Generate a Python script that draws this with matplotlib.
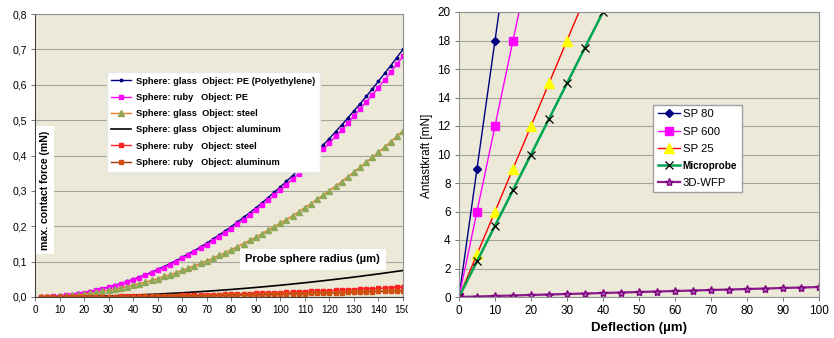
import numpy as np
import matplotlib as mpl
import matplotlib.pyplot as plt
from matplotlib.patches import Rectangle

mpl.rcParams['font.family'] = ['Liberation Sans', 'DejaVu Sans']

# ---------------- left chart: max. contact force vs probe radius ----------------
radius = [2.5, 5, 7.5, 10, 12.5, 15, 17.5, 20, 22.5, 25, 27.5, 30, 32.5, 35, 37.5,
          40, 42.5, 45, 47.5, 50, 52.5, 55, 57.5, 60, 62.5, 65, 67.5, 70, 72.5, 75,
          77.5, 80, 82.5, 85, 87.5, 90, 92.5, 95, 97.5, 100, 102.5, 105, 107.5, 110,
          112.5, 115, 117.5, 120, 122.5, 125, 127.5, 130, 132.5, 135, 137.5, 140,
          142.5, 145, 147.5, 150]

glass_pe = [0.000, 0.001, 0.002, 0.003, 0.005, 0.007, 0.010, 0.012, 0.016, 0.019,
            0.024, 0.028, 0.033, 0.038, 0.044, 0.050, 0.056, 0.063, 0.070, 0.078,
            0.086, 0.094, 0.103, 0.112, 0.122, 0.131, 0.142, 0.152, 0.164, 0.175,
            0.187, 0.199, 0.212, 0.225, 0.238, 0.252, 0.266, 0.281, 0.296, 0.311,
            0.327, 0.343, 0.360, 0.376, 0.394, 0.411, 0.430, 0.448, 0.467, 0.486,
            0.506, 0.526, 0.546, 0.567, 0.588, 0.610, 0.632, 0.654, 0.677, 0.700]
ruby_pe = [0.000, 0.001, 0.002, 0.003, 0.005, 0.007, 0.009, 0.012, 0.015, 0.019,
           0.023, 0.027, 0.032, 0.037, 0.043, 0.048, 0.055, 0.061, 0.068, 0.076,
           0.083, 0.091, 0.100, 0.109, 0.118, 0.128, 0.138, 0.148, 0.159, 0.170,
           0.182, 0.193, 0.206, 0.218, 0.231, 0.245, 0.259, 0.273, 0.287, 0.302,
           0.318, 0.333, 0.349, 0.366, 0.383, 0.400, 0.417, 0.435, 0.454, 0.472,
           0.491, 0.511, 0.531, 0.551, 0.571, 0.592, 0.614, 0.635, 0.658, 0.680]
glass_steel = [0.000, 0.001, 0.001, 0.002, 0.003, 0.005, 0.006, 0.008, 0.011, 0.013,
               0.016, 0.019, 0.022, 0.026, 0.029, 0.033, 0.038, 0.042, 0.047, 0.052,
               0.058, 0.063, 0.069, 0.075, 0.082, 0.088, 0.095, 0.102, 0.110, 0.118,
               0.125, 0.134, 0.142, 0.151, 0.160, 0.169, 0.179, 0.189, 0.199, 0.209,
               0.219, 0.230, 0.241, 0.253, 0.264, 0.276, 0.288, 0.301, 0.313, 0.326,
               0.340, 0.353, 0.367, 0.381, 0.395, 0.409, 0.424, 0.439, 0.454, 0.470]
glass_alu = [0.0000, 0.0001, 0.0002, 0.0003, 0.0005, 0.0008, 0.0010, 0.0013, 0.0017, 0.0021,
             0.0025, 0.0030, 0.0035, 0.0041, 0.0047, 0.0053, 0.0060, 0.0068, 0.0075, 0.0083,
             0.0092, 0.0101, 0.0110, 0.0120, 0.0130, 0.0141, 0.0152, 0.0163, 0.0175, 0.0188,
             0.0200, 0.0213, 0.0227, 0.0241, 0.0255, 0.0270, 0.0285, 0.0301, 0.0317, 0.0333,
             0.0350, 0.0368, 0.0385, 0.0403, 0.0422, 0.0441, 0.0460, 0.0480, 0.0500, 0.0521,
             0.0542, 0.0563, 0.0585, 0.0608, 0.0630, 0.0653, 0.0677, 0.0701, 0.0725, 0.0750]
ruby_steel = [0.0000, 0.0000, 0.0001, 0.0001, 0.0002, 0.0003, 0.0004, 0.0005, 0.0006, 0.0008,
              0.0009, 0.0011, 0.0013, 0.0015, 0.0018, 0.0020, 0.0022, 0.0025, 0.0028, 0.0031,
              0.0034, 0.0038, 0.0041, 0.0045, 0.0049, 0.0053, 0.0057, 0.0061, 0.0065, 0.0070,
              0.0075, 0.0080, 0.0085, 0.0090, 0.0095, 0.0101, 0.0106, 0.0112, 0.0118, 0.0124,
              0.0131, 0.0137, 0.0144, 0.0151, 0.0158, 0.0165, 0.0172, 0.0179, 0.0187, 0.0194,
              0.0202, 0.0210, 0.0218, 0.0227, 0.0235, 0.0244, 0.0253, 0.0262, 0.0271, 0.0280]
ruby_alu = [0.0000, 0.0000, 0.0000, 0.0001, 0.0001, 0.0002, 0.0002, 0.0003, 0.0004, 0.0005,
            0.0006, 0.0007, 0.0008, 0.0010, 0.0011, 0.0013, 0.0014, 0.0016, 0.0018, 0.0020,
            0.0022, 0.0024, 0.0026, 0.0029, 0.0031, 0.0034, 0.0036, 0.0039, 0.0042, 0.0045,
            0.0048, 0.0051, 0.0054, 0.0058, 0.0061, 0.0065, 0.0068, 0.0072, 0.0076, 0.0080,
            0.0084, 0.0088, 0.0092, 0.0097, 0.0101, 0.0106, 0.0110, 0.0115, 0.0120, 0.0125,
            0.0130, 0.0135, 0.0140, 0.0146, 0.0151, 0.0157, 0.0162, 0.0168, 0.0174, 0.0180]

left_xticks = [0, 10, 20, 30, 40, 50, 60, 70, 80, 90, 100, 110, 120, 130, 140, 150]
left_yticks = [0.0, 0.1, 0.2, 0.3, 0.4, 0.5, 0.6, 0.7, 0.8]
left_ylabels = ['0,0', '0,1', '0,2', '0,3', '0,4', '0,5', '0,6', '0,7', '0,8']

# ---------------- right chart: probing force vs deflection ----------------
sp80_x = [0, 5, 10, 15]
sp80_y = [0, 9, 18, 27]
sp600_x = [0, 5, 10, 15, 20]
sp600_y = [0, 6, 12, 18, 24]
sp25_x = [0, 5, 10, 15, 20, 25, 30, 35]
sp25_y = [0, 3, 6, 9, 12, 15, 18, 21]
micro_x = [0, 5, 10, 15, 20, 25, 30, 35, 40]
micro_y = [0, 2.5, 5, 7.5, 10, 12.5, 15, 17.5, 20]
wfp_x = [0, 5, 10, 15, 20, 25, 30, 35, 40, 45, 50, 55, 60, 65, 70, 75, 80, 85, 90, 95, 100]
wfp_y = [0, 0.035, 0.07, 0.105, 0.14, 0.175, 0.21, 0.245, 0.28, 0.315, 0.35, 0.385,
         0.42, 0.455, 0.49, 0.525, 0.56, 0.595, 0.63, 0.665, 0.70]

bg = '#ECE9D8'
grid_c = '#A5A5A0'

fig = plt.figure(figsize=(8.34, 3.38), dpi=100)

# ---- left
ax1 = fig.add_axes([35 / 834, 41 / 338, 368 / 834, 283 / 338])
ax1.set_facecolor(bg)
ax1.plot(radius, glass_pe, color='#000080', lw=1.0, marker='o', ms=1.8,
         label='Sphere: glass  Object: PE (Polyethylene)')
ax1.plot(radius, ruby_pe, color='#FF00FF', lw=1.0, marker='s', ms=2.6,
         label='Sphere: ruby   Object: PE')
ax1.plot(radius, glass_steel, color='#F07820', lw=1.0, marker='^', ms=5,
         mfc='#8FA858', mec='#8FA858', label='Sphere: glass  Object: steel')
ax1.plot(radius, glass_alu, color='black', lw=1.2,
         label='Sphere: glass  Object: aluminum')
ax1.plot(radius, ruby_steel, color='#FF2020', lw=1.0, marker='s', ms=2.6,
         label='Sphere: ruby   Object: steel')
ax1.plot(radius, ruby_alu, color='#993300', lw=1.0, marker='s', ms=2.2,
         mfc='#D05010', mec='#D05010', label='Sphere: ruby   Object: aluminum')
ax1.set_xlim(0, 150)
ax1.set_ylim(0, 0.8)
ax1.set_xticks(left_xticks)
ax1.set_xticklabels([str(v) for v in left_xticks], fontsize=7.2)
ax1.set_yticks(left_yticks)
ax1.set_yticklabels(left_ylabels, fontsize=7.6)
ax1.grid(axis='y', color=grid_c, lw=0.8)
ax1.set_axisbelow(True)
ax1.tick_params(length=3, width=0.6, color='#606060', pad=3)
for s in ['top', 'right']:
    ax1.spines[s].set_color('#909090')
for s in ['left', 'bottom']:
    ax1.spines[s].set_color('#404040')
ax1.text(0.027, 0.378, 'max. contact force (mN)', transform=ax1.transAxes,
         rotation=90, ha='center', va='center', fontsize=7.6, fontweight='bold',
         bbox=dict(facecolor='white', edgecolor='none', pad=3))
ax1.text(0.755, 0.134, 'Probe sphere radius (µm)', transform=ax1.transAxes,
         ha='center', va='center', fontsize=8, fontweight='bold',
         bbox=dict(facecolor='white', edgecolor='none', pad=4))
leg1 = ax1.legend(loc='upper left', bbox_to_anchor=(0.195, 0.795),
                  frameon=True, fancybox=False, handlelength=2.1, borderpad=0.5,
                  labelspacing=0.78, handletextpad=0.5, borderaxespad=0,
                  prop=dict(weight='bold', size=6.7))
leg1.get_frame().set_facecolor('white')
leg1.get_frame().set_edgecolor('#E8E8E8')
leg1.get_frame().set_alpha(1)

# ---- right
ax2 = fig.add_axes([459 / 834, 41 / 338, 360 / 834, 285 / 338])
ax2.set_facecolor(bg)
ax2.plot(sp80_x, sp80_y, color='#000080', lw=1.0, marker='D', ms=4.5,
         label='SP 80')
ax2.plot(sp600_x, sp600_y, color='#FF00FF', lw=1.0, marker='s', ms=6,
         label='SP 600')
ax2.plot(sp25_x, sp25_y, color='#FF0000', lw=1.0, marker='^', ms=6.5,
         mfc='#FFFF00', mec='#FFFF00', label='SP 25')
ax2.plot(micro_x, micro_y, color='#00A550', lw=1.8, marker='x', ms=5.5,
         mec='black', mew=0.9, label='Microprobe')
ax2.plot(wfp_x, wfp_y, color='#8B1A8B', lw=1.6, marker='*', ms=6,
         mfc='#A060B0', mec='#800080', label='3D-WFP')
ax2.set_xlim(0, 100)
ax2.set_ylim(0, 20)
ax2.set_xticks(range(0, 101, 10))
ax2.set_yticks(range(0, 21, 2))
ax2.tick_params(labelsize=8.5, length=3, width=0.6, color='#606060', pad=3)
ax2.grid(axis='y', color=grid_c, lw=0.8)
ax2.set_axisbelow(True)
for s in ax2.spines.values():
    s.set_color('#909090')
ax2.set_xlabel('Deflection (µm)', fontsize=9.5, fontweight='bold', labelpad=3)
fig.text(427 / 834, 0.54, 'Antastkraft [mN]', rotation=90, ha='center',
         va='center', fontsize=8.5)
leg2 = ax2.legend(loc='upper left', bbox_to_anchor=(0.539, 0.674), fontsize=8.2,
                  frameon=True, fancybox=False, handlelength=2.0, borderpad=0.4,
                  labelspacing=0.62, handletextpad=0.2, borderaxespad=0)
leg2.get_frame().set_edgecolor('#A0A0A0')
leg2.get_frame().set_facecolor('white')
leg2.get_frame().set_alpha(1)
leg2.get_texts()[3].set_fontweight('bold')
leg2.get_texts()[3].set_fontsize(7.2)

# left chart is cropped at its right edge in the source image
fig.patches.append(Rectangle((408 / 834, 0), 14 / 834, 45 / 338,
                             transform=fig.transFigure, facecolor='white',
                             edgecolor='none', zorder=10))

fig.savefig('out.png', dpi=100)
